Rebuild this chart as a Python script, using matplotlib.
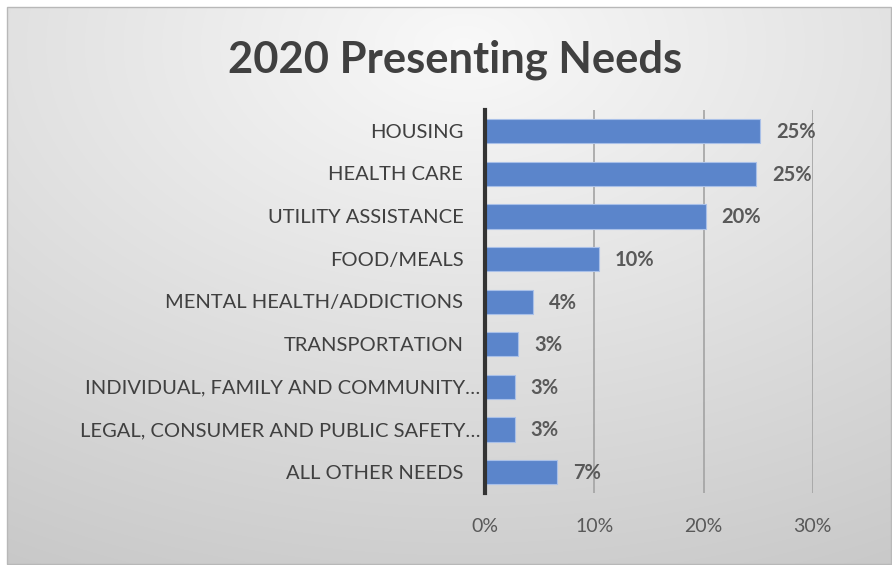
import numpy as np
import matplotlib
matplotlib.use("Agg")
import matplotlib.pyplot as plt
import matplotlib.transforms as mtransforms
from matplotlib.patches import Rectangle

# Share of presenting needs in 2020 (percent)
categories = [
    "HOUSING",
    "HEALTH CARE",
    "UTILITY ASSISTANCE",
    "FOOD/MEALS",
    "MENTAL HEALTH/ADDICTIONS",
    "TRANSPORTATION",
    "INDIVIDUAL, FAMILY AND COMMUNITY…",
    "LEGAL, CONSUMER AND PUBLIC SAFETY…",
    "ALL OTHER NEEDS",
]
shares = [25.2, 24.8, 20.2, 10.4, 4.4, 3.0, 2.7, 2.7, 6.6]
x_ticks = [0, 10, 20, 30]
title = "2020 Presenting Needs"

FONT = "Lato"
TEXT_DARK = "#404040"
TEXT_MID = "#595959"
BAR = "#5b85cb"

fig = plt.figure(figsize=(8.92, 5.65), dpi=100)
fig.patch.set_facecolor("white")

# Radial grey gradient behind the chart area
bg = fig.add_axes([0, 0, 1, 1], zorder=0)
bg.set_axis_off()
h, w = 565, 892
yy, xx = np.mgrid[0:h, 0:w]
cx, cy = 0.52 * w, 0.08 * h
r = np.sqrt(((xx - cx) / w) ** 2 + ((yy - cy) / h) ** 2)
r = np.clip(r / 1.05, 0, 1)
val = 0.975 - 0.19 * r
img = np.dstack([val, val, val])
bg.imshow(img, extent=[0, w, h, 0], aspect="auto", interpolation="bilinear")
bg.set_xlim(0, w)
bg.set_ylim(h, 0)
# white outer margin and thin frame
for (x0, y0, ww, hh) in [(0, 0, w, 7), (0, 0, 7, h)]:
    bg.add_patch(Rectangle((x0, y0), ww, hh, color="white", lw=0))
bg.add_patch(Rectangle((7, 7), w - 8, h - 8, fill=False, ec="#b8b8b8", lw=1.0))

ax = fig.add_axes([485.3 / w, 1 - 493.3 / h, (812.7 - 485.3) / w, (493.3 - 110) / h], zorder=1)
ax.patch.set_alpha(0)

ypos = np.arange(len(categories))
ax.barh(ypos, shares, height=0.57, color=BAR, edgecolor="#a9c0e8", linewidth=0.8, zorder=3)
ax.set_ylim(len(categories) - 0.5, -0.5)
ax.set_xlim(0, 30)

ax.set_xticks(x_ticks)
ax.set_xticklabels([f"{t}%" for t in x_ticks])
ax.set_yticks(ypos)
ax.set_yticklabels([])
ax.tick_params(axis="both", length=0)
ax.tick_params(axis="x", pad=18, labelsize=14, labelcolor=TEXT_MID)
for lab in ax.get_xticklabels():
    lab.set_fontfamily(FONT)

# Category labels: truncated names sit closer to the axis
ytrans = mtransforms.blended_transform_factory(ax.transAxes, ax.transData)
for y, name in zip(ypos, categories):
    gap = 5 if name.endswith("…") else 22
    t = mtransforms.offset_copy(ytrans, fig=fig, x=-gap, y=-1, units="dots")
    ax.text(0, y, name, transform=t, ha="right", va="center", fontsize=14.5,
            color=TEXT_DARK, fontfamily=FONT)

ax.grid(axis="x", color="#a3a3a3", linewidth=1.2, zorder=0)
for s in ["top", "right", "bottom"]:
    ax.spines[s].set_visible(False)
ax.spines["left"].set_color("#333333")
ax.spines["left"].set_linewidth(3)
ax.spines["left"].set_zorder(4)

for y, v in zip(ypos, shares):
    ax.annotate(f"{v:.0f}%", xy=(v, y), xytext=(16, -1), textcoords="offset pixels",
                va="center", ha="left", fontsize=14.5, fontweight="bold",
                color=TEXT_MID, fontfamily=FONT)

fig.text(455 / w, 1 - 60 / h, title, ha="center", va="center", fontsize=31.3,
         fontweight="bold", color=TEXT_DARK, fontfamily=FONT)

fig.savefig("out.png", dpi=100)
